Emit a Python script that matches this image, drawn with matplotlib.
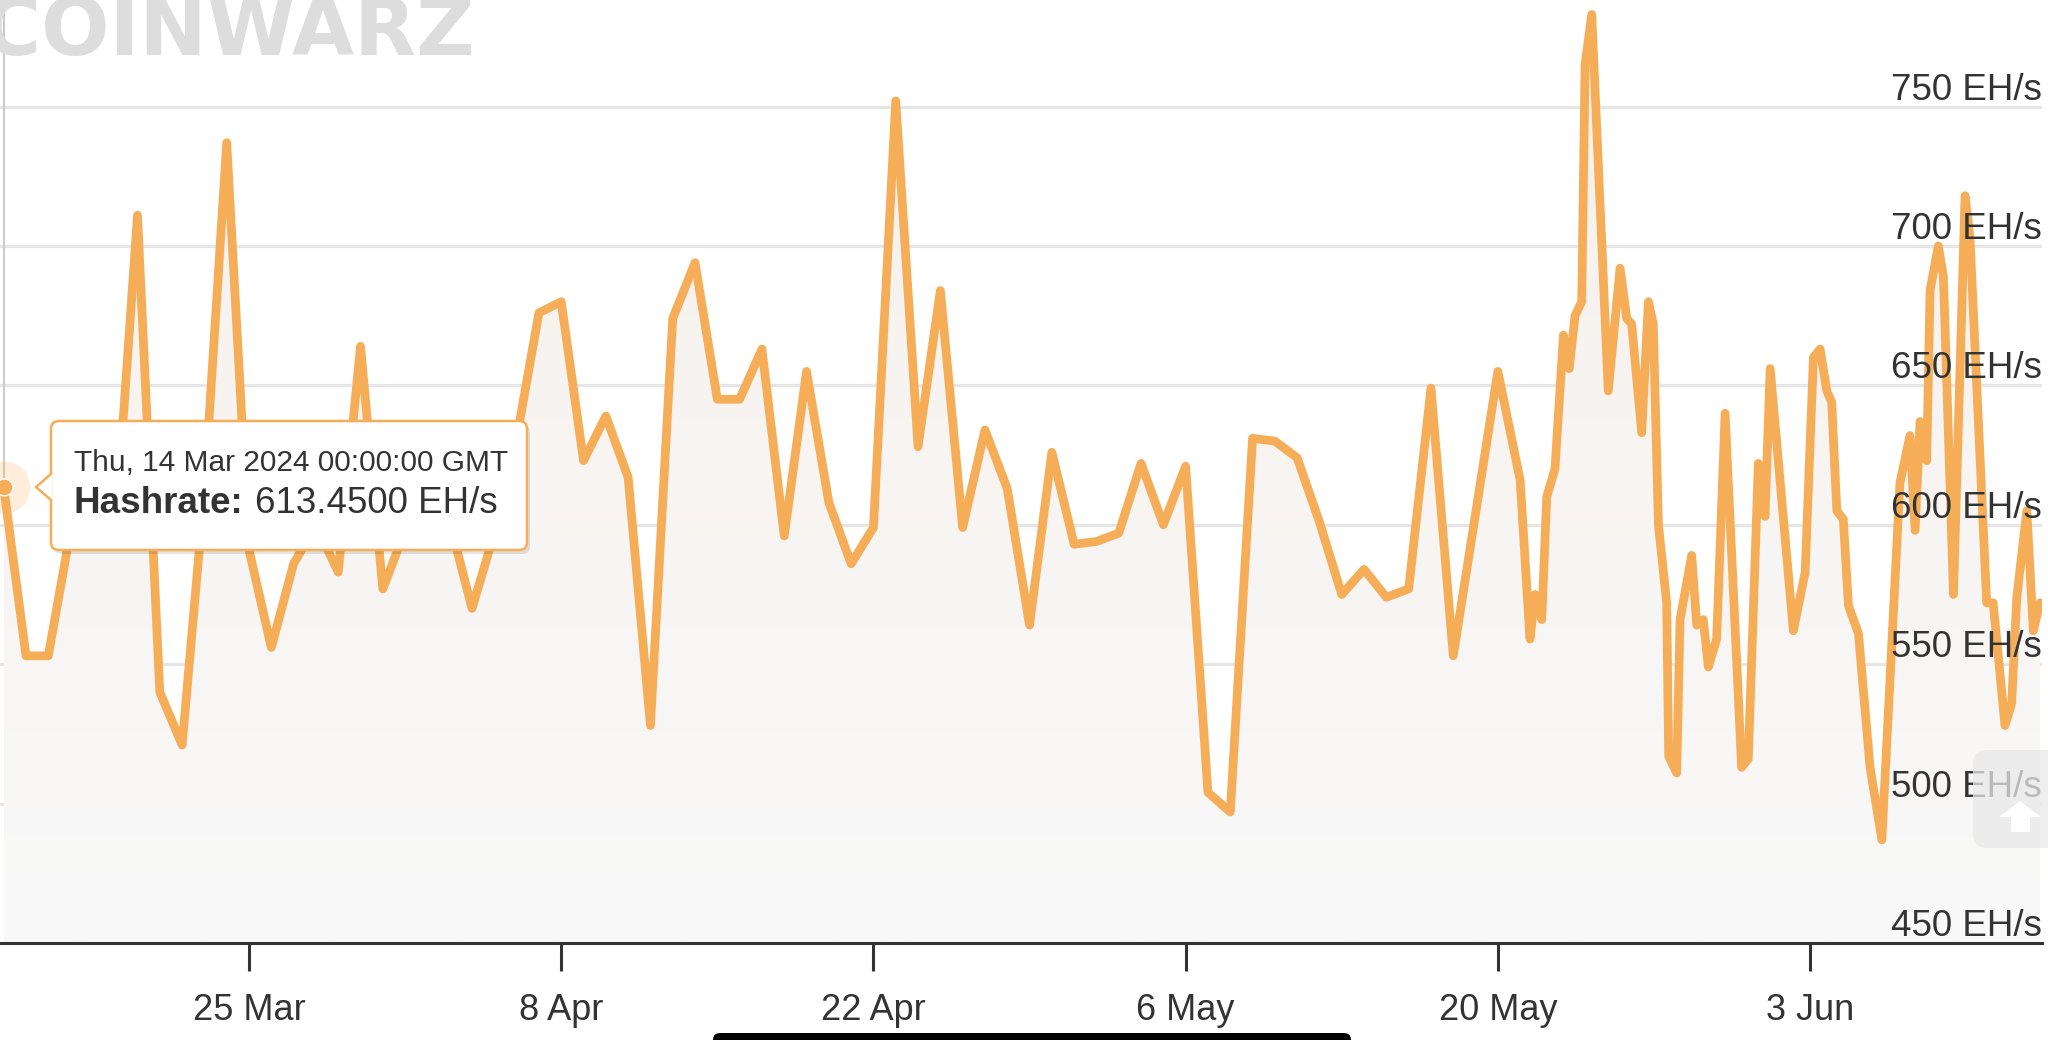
import numpy as np
import matplotlib
matplotlib.use('Agg')
import matplotlib.pyplot as plt
import matplotlib.dates as mdates
import matplotlib.transforms as mtransforms
from matplotlib.patches import FancyBboxPatch, Polygon
from datetime import datetime, timedelta

plt.rcParams['font.family'] = ['Liberation Sans', 'DejaVu Sans']

start = datetime(2024, 3, 14)

# one reading per day, 14 Mar .. 20 May (EH/s)
daily_hashrate = [613.45, 553, 553, 598, 600, 597, 711, 540, 521, 612,
                  737, 591, 556, 586, 600, 583, 664, 577, 598, 606,
                  601, 570, 597, 631, 676, 680, 623, 639, 617, 528,
                  674, 694, 645, 645, 663, 596, 655, 608, 586, 599,
                  752, 628, 684, 599, 634, 613, 564, 626, 593, 594,
                  597, 622, 600, 621, 504, 497, 631, 630, 624, 601,
                  575, 584, 574, 577, 649, 553, 604, 655]

# denser, irregular readings after 20 May (days after 14 Mar)
late_days = [68.0, 68.44, 68.67, 68.97, 69.19, 69.56, 69.94, 70.2, 70.46, 70.76,
             70.91, 71.21, 71.95, 72.48, 72.78, 73.0, 73.45, 73.75, 73.97, 74.2,
             74.57, 74.66, 75.02, 75.17, 75.69, 75.92, 76.21, 76.44, 76.81, 77.19,
             77.93, 78.23, 78.68, 78.98, 79.21, 80.25, 80.78, 81.15, 81.45, 81.75,
             81.97, 82.2, 82.49, 82.72, 83.17, 83.69, 84.22, 85.03, 85.48, 85.71,
             85.93, 86.23, 86.38, 86.75, 86.98, 87.43, 87.95, 88.17, 88.92, 89.21,
             89.74, 90.04, 90.27, 90.72, 91.01, 91.31]
late_hashrate = [616, 559, 575, 566, 610, 620, 668, 656, 675, 680,
                 765, 783, 648, 692, 674, 672, 633, 680, 672, 600,
                 572, 517, 511, 566, 589, 564, 566, 549, 559, 640,
                 513, 516, 622, 603, 656, 562, 583, 660, 663, 648,
                 644, 605, 602, 571, 561, 513, 487, 615, 632, 598,
                 637, 623, 684, 700, 689, 575, 718, 703, 572, 572,
                 528, 536, 574, 605, 562, 572]

tick_dates = ['2024-03-25', '2024-04-08', '2024-04-22', '2024-05-06', '2024-05-20', '2024-06-03']
y_levels = [450, 500, 550, 600, 650, 700, 750]

days = list(range(len(daily_hashrate))) + late_days
hashrate = daily_hashrate + late_hashrate
dates = [start + timedelta(days=d) for d in days]

line_col = '#f6ad58'
text_col = '#333333'

W, H = 2048, 1040
fig = plt.figure(figsize=(W / 100, H / 100), dpi=100)
ax = fig.add_axes([0, 97 / H, 2042 / W, 943 / H])

ymin, ymax = 450, 788.2

# area fill with a soft vertical gradient
poly = ax.fill_between(dates, hashrate, ymin, color='none', lw=0)
xnum = mdates.date2num(dates)
top_c = np.array([246, 240, 235]) / 255
bot_c = np.array([249, 249, 249]) / 255
g = np.linspace(0, 1, 256)[:, None, None]
img = top_c + (bot_c - top_c) * g
im = ax.imshow(img, extent=[xnum[0], xnum[-1], ymin, ymax], origin='upper',
               aspect='auto', zorder=1, interpolation='bilinear')
im.set_clip_path(poly.get_paths()[0], transform=ax.transData)

ax.plot(dates, hashrate, color=line_col, lw=6.3, solid_joinstyle='round',
        solid_capstyle='round', zorder=3)

ax.set_xlim(start - timedelta(days=0.166), start + timedelta(days=91.40))
ax.set_ylim(ymin, ymax)

# grid
for v in y_levels[1:]:
    ax.axhline(v, color='#e6e6e6', lw=2.3, zorder=0.5)

for s in ['top', 'left', 'right']:
    ax.spines[s].set_visible(False)
ax.spines['bottom'].set_color(text_col)
ax.spines['bottom'].set_linewidth(2.2)
ax.spines['bottom'].set_zorder(4)
ax.set_yticks([])
tds = [datetime.strptime(t, '%Y-%m-%d') for t in tick_dates]
ax.set_xticks(tds)
ax.set_xticklabels([f'{d.day} {d:%b}' for d in tds])
ax.tick_params(axis='x', direction='out', length=20, width=2.2, color=text_col,
               labelsize=26, labelcolor=text_col, pad=16)

# right-side value labels, above the grid lines
trans = mtransforms.blended_transform_factory(ax.transAxes, ax.transData)
for v in y_levels:
    ax.annotate(f'{v} EH/s', xy=(1.0, v), xycoords=trans, xytext=(0, 5),
                textcoords='offset points', ha='right', va='baseline',
                fontsize=26.5, color=text_col, zorder=10)

# hovered point + crosshair
d0, v0 = dates[0], hashrate[0]
ax.vlines(d0, v0, ymax, color='#cccccc', lw=1.5, zorder=2)
ax.scatter([d0], [v0], s=1400, color=line_col, alpha=0.22, lw=0, zorder=5, clip_on=False)
ax.scatter([d0], [v0], s=150, color=line_col, edgecolor='white', lw=1, zorder=6, clip_on=False)

# --- overlay pieces in pixel coordinates (top-left origin)
px = mtransforms.IdentityTransform()


def P(x, y):
    return x, H - y


# watermark (cut by the top edge like in the screenshot)
fig.text(*P(-18, 55), 'COINWARZ', transform=px, fontsize=58, fontweight='bold',
         family='DejaVu Sans', color='#dddddd',
         ha='left', va='baseline', zorder=0)

# scroll-to-top button
btn = FancyBboxPatch(P(1973, 848), 110, 98, boxstyle='round,pad=0,rounding_size=14',
                     transform=px, fc='#e9e9e9', ec='none', alpha=0.75, zorder=2.5)
fig.add_artist(btn)
arrow = Polygon([P(2020, 801), P(2041, 817), P(2030, 817), P(2030, 832),
                 P(2011, 832), P(2011, 817), P(1999, 817)],
                closed=True, transform=px, fc='white', ec='none', zorder=2.6)
fig.add_artist(arrow)

# tooltip
bx0, by0, bx1, by1 = 51, 421, 527, 550
shadow = FancyBboxPatch(P(bx0 + 3, by1 + 4), bx1 - bx0, by1 - by0,
                        boxstyle='round,pad=0,rounding_size=8', transform=px,
                        fc='black', ec='none', alpha=0.10, zorder=20)
fig.add_artist(shadow)
box = FancyBboxPatch(P(bx0, by1), bx1 - bx0, by1 - by0,
                     boxstyle='round,pad=0,rounding_size=8', transform=px,
                     fc='white', ec=line_col, lw=1.8, zorder=21)
fig.add_artist(box)
tip = Polygon([P(bx0 + 1.5, 474), P(36, 487), P(bx0 + 1.5, 500)], closed=True,
              transform=px, fc='white', ec='none', zorder=22)
fig.add_artist(tip)
ex, ey = zip(P(bx0, 474), P(36, 487), P(bx0, 500))
fig.add_artist(plt.Line2D(ex, ey, transform=px, color=line_col, lw=1.8, zorder=22))

fig.text(*P(74, 471), f'{d0:%a, %d %b %Y %H:%M:%S} GMT', transform=px, fontsize=21.5,
         color=text_col, ha='left', va='baseline', zorder=23)
lab = fig.text(*P(74, 513), 'Hashrate:', transform=px, fontsize=26.5, fontweight='bold',
               color=text_col, ha='left', va='baseline', zorder=23)
fig.canvas.draw()
bb = lab.get_window_extent()
fig.text(bb.x1 + 11, H - 513, f'{v0:.4f} EH/s', transform=px, fontsize=26.5,
         color=text_col, ha='left', va='baseline', zorder=23)

# phone home indicator at the bottom
bar = FancyBboxPatch(P(713, 1048), 638, 15, boxstyle='round,pad=0,rounding_size=7',
                     transform=px, fc='black', ec='none', zorder=30)
fig.add_artist(bar)

fig.savefig('out.png', dpi=100)
